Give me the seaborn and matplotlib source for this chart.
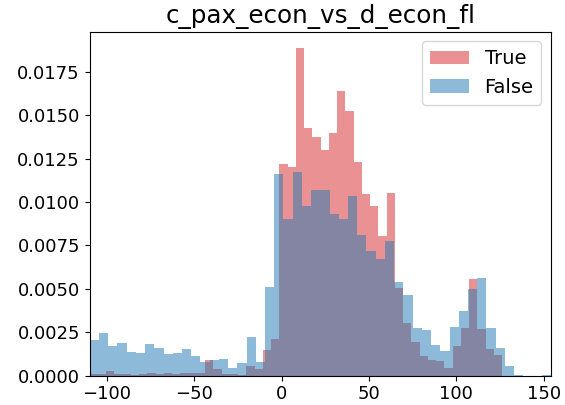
import numpy as np
import pandas as pd
import matplotlib
matplotlib.use("Agg")
import matplotlib.pyplot as plt
import seaborn as sns

title = "c_pax_econ_vs_d_econ_fl"
x_min = -109.9
true_max = 126.3
false_max = 154.25
n_bins = 50

# density heights per bin
true_heights = [
    0.00010, 0.00010, 0.00027, 0.00010, 0.00010, 0.00004, 0.00010, 0.00015, 0.00010, 0.00015,
    0.00010, 0.00015, 0.00015, 0.00015, 0.00090, 0.00038, 0.00010, 0.00010, 0.00004, 0.00056,
    0.00038, 0.00148, 0.00211, 0.01219, 0.01203, 0.01886, 0.01426, 0.01374, 0.01299, 0.01397,
    0.01639, 0.01524, 0.01230, 0.01046, 0.00977, 0.00804, 0.01052, 0.00505, 0.00303, 0.00194,
    0.00113, 0.00088, 0.00083, 0.00044, 0.00173, 0.00275, 0.00557, 0.00269, 0.00154, 0.00119,
]
false_heights = [
    0.00205, 0.00246, 0.00171, 0.00188, 0.00136, 0.00131, 0.00182, 0.00159, 0.00125, 0.00131,
    0.00154, 0.00113, 0.00079, 0.00090, 0.00096, 0.00044, 0.00073, 0.00223, 0.00079, 0.00512,
    0.01161, 0.00902, 0.01173, 0.00977, 0.01069, 0.01069, 0.00931, 0.00902, 0.01034, 0.00810,
    0.00718, 0.00672, 0.00775, 0.00539, 0.00465, 0.00275, 0.00263, 0.00177, 0.00142, 0.00280,
    0.00372, 0.00499, 0.00562, 0.00275, 0.00159, 0.00058, 0.00004, 0.00000, 0.00000, 0.00002,
]

true_edges = np.linspace(x_min, true_max, n_bins + 1)
false_edges = np.linspace(x_min, false_max, n_bins + 1)
true_df = pd.DataFrame({"value": (true_edges[:-1] + true_edges[1:]) / 2, "h": true_heights})
false_df = pd.DataFrame({"value": (false_edges[:-1] + false_edges[1:]) / 2, "h": false_heights})

fig = plt.figure(figsize=(5.65, 4.05), dpi=100)
ax = fig.add_axes([89.7 / 565, (405 - 375.7) / 405, (551 - 89.7) / 565, (375.7 - 31.7) / 405])

sns.histplot(data=true_df, x="value", weights="h", bins=list(true_edges), stat="count",
             color="#d62728", alpha=0.5, linewidth=0, label="True", ax=ax)
sns.histplot(data=false_df, x="value", weights="h", bins=list(false_edges), stat="count",
             color="#1f77b4", alpha=0.5, linewidth=0, label="False", ax=ax)

ax.set_xlim(x_min, false_max)
ax.set_ylim(0, 0.0198)
yt = np.arange(0, 0.0176, 0.0025)
ax.set_yticks(yt)
ax.set_yticklabels([f"{v:.4f}" for v in yt])
ax.set_xticks([-100, -50, 0, 50, 100, 150])
ax.set_xlabel("")
ax.set_ylabel("")
ax.tick_params(labelsize=13)
ax.set_title(title, fontsize=17.7)
ax.legend(loc="upper right", fontsize=14)

fig.savefig("out.png", dpi=100)
